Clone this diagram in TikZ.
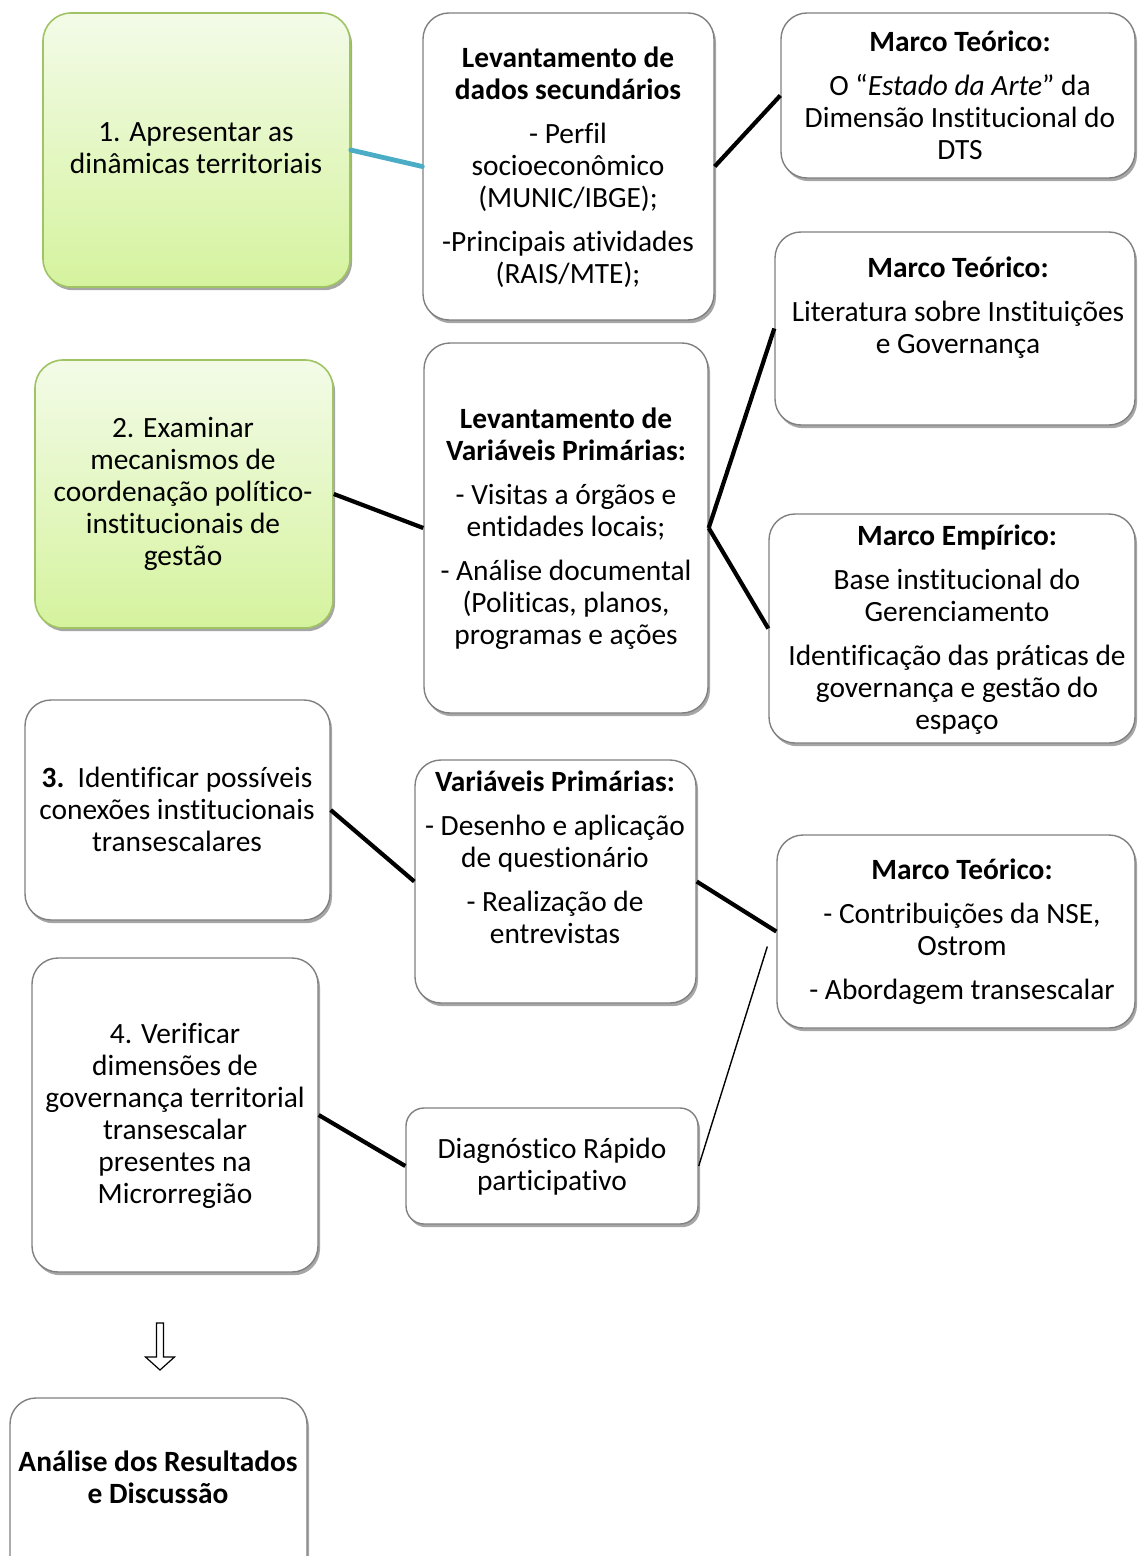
\documentclass[tikz,border=0pt]{standalone}
\usepackage{fontspec}
\setmainfont{Carlito}[Ligatures=NoCommon]
\usetikzlibrary{fit,shadows,calc}

\definecolor{boxline}{RGB}{128,128,128}
\definecolor{greenline}{RGB}{160,196,100}
\definecolor{greentop}{RGB}{243,251,232}
\definecolor{greenbottom}{RGB}{213,243,158}
\definecolor{bluelink}{RGB}{75,172,198}

\tikzset{
  boxshadow/.style={drop shadow={shadow xshift=1pt, shadow yshift=-1.6pt, opacity=0.35, fill=black}},
  wbox/.style={draw=boxline, line width=0.7pt, fill=white, rounded corners=13pt,
    inner sep=0pt, boxshadow},
  gbox/.style={draw=greenline, line width=0.8pt, top color=greentop, bottom color=greenbottom,
    rounded corners=14pt, inner sep=0pt, boxshadow},
  txt/.style={align=center, inner sep=0pt, yshift=-2pt,
    font=\fontsize{14.7}{16}\selectfont,
    execute at begin node=\strut, execute at end node=\strut},
  conn/.style={line width=2.1pt, black},
  thinconn/.style={line width=0.7pt, black},
}

\begin{document}
\begin{tikzpicture}[x=0.5pt, y=-0.5pt]
\useasboundingbox (0,0) rectangle (1137,1556);

% ---- boxes ----
\node[gbox, fit={(43,13) (350,287)}]   (A) {};
\node[wbox, fit={(423,13) (714,320)}]  (B) {};
\node[wbox, fit={(781,13) (1135,178)}] (C) {};
\node[wbox, fit={(775,232) (1135,425)}] (D) {};
\node[gbox, fit={(35,360) (333,628)}]  (E) {};
\node[wbox, fit={(424,343) (708,713)}] (F) {};
\node[wbox, fit={(769,514) (1135,743)}] (G) {};
\node[wbox, fit={(25,700) (330,920)}]  (H) {};
\node[wbox, fit={(415,760) (696,1003)}] (I) {};
\node[wbox, fit={(777,835) (1135,1028)}] (J) {};
\node[wbox, fit={(32,958) (318,1272)}] (K) {};
\node[wbox, rounded corners=9pt, fit={(406,1108) (698,1224)}] (L) {};
\node[wbox, fit={(10,1398) (307,1620)}] (M) {};

% ---- texts ----
\node[txt] (At) at (196,149) {1. Apresentar as\\dinâmicas territoriais};
\node[txt] (Bt) at (568,166) {\textbf{Levantamento de}\\\textbf{dados secundários}\\[6pt]
  - Perfil\\socioeconômico\\(MUNIC/IBGE);\\[6pt]-Principais atividades\\(RAIS/MTE);};
\node[txt] (Ct) at (960,95.5) {\textbf{Marco Teórico:}\\[6pt]O “\textit{Estado da Arte}” da\\
  Dimensão Institucional do\\DTS};
\node[txt] (Dt) at (958,305.5) {\textbf{Marco Teórico:}\\[6pt]Literatura sobre Instituições\\e Governança};
\node[txt] (Et) at (183,492.5) {2. Examinar\\mecanismos de\\coordenação político-\\institucionais de\\gestão};
\node[txt] (Ft) at (566,527) {\textbf{Levantamento de}\\\textbf{Variáveis Primárias:}\\[6pt]
  - Visitas a órgãos e\\entidades locais;\\[6pt]- Análise documental\\(Politicas, planos,\\programas e ações};
\node[txt] (Gt) at (957,628) {\textbf{Marco Empírico:}\\[6pt]Base institucional do\\Gerenciamento\\[6pt]
  Identificação das práticas de\\governança e gestão do\\espaço};
\node[txt] (Ht) at (177,810) {\textbf{3.}\ \ Identificar possíveis\\conexões institucionais\\transescalares};
\node[txt] (It) at (555,858) {\textbf{Variáveis Primárias:}\\[6pt]- Desenho e aplicação\\de questionário\\[6pt]
  - Realização de\\entrevistas};
\node[txt] (Jt) at (962,930) {\textbf{Marco Teórico:}\\[6pt]- Contribuições da NSE,\\Ostrom\\[6pt]- Abordagem transescalar};
\node[txt] (Kt) at (175,1114) {4. Verificar\\dimensões de\\governança territorial\\transescalar\\presentes na\\Microrregião};
\node[txt] (Lt) at (552,1165.5) {Diagnóstico Rápido\\participativo};
\node[txt] (Mt) at (158,1478) {\textbf{Análise dos Resultados}\\\textbf{e Discussão}};

% ---- hollow arrow towards the final box ----
\draw[line width=0.6pt, fill=white]
  (156.5,1323) -- (163.5,1323) -- (163.5,1357) -- (174.5,1357) -- (160,1370)
  -- (145.5,1357) -- (156.5,1357) -- cycle;

% ---- connectors ----
\coordinate (Jfree) at ($(J.west)+(-9,15)$);
\draw[line width=2.4pt, bluelink, line cap=round] (A.east) -- (B.west);
\draw[conn] (B.east) -- (C.west);
\draw[conn] (E.east) -- (F.west);
\draw[conn] (F.east) -- (D.west);
\draw[conn] (F.east) -- (G.west);
\draw[conn] (H.east) -- (I.west);
\draw[conn] (I.east) -- (J.west);
\draw[conn] (K.east) -- (L.west);
\draw[thinconn] (L.east) -- (Jfree);
\end{tikzpicture}
\end{document}
